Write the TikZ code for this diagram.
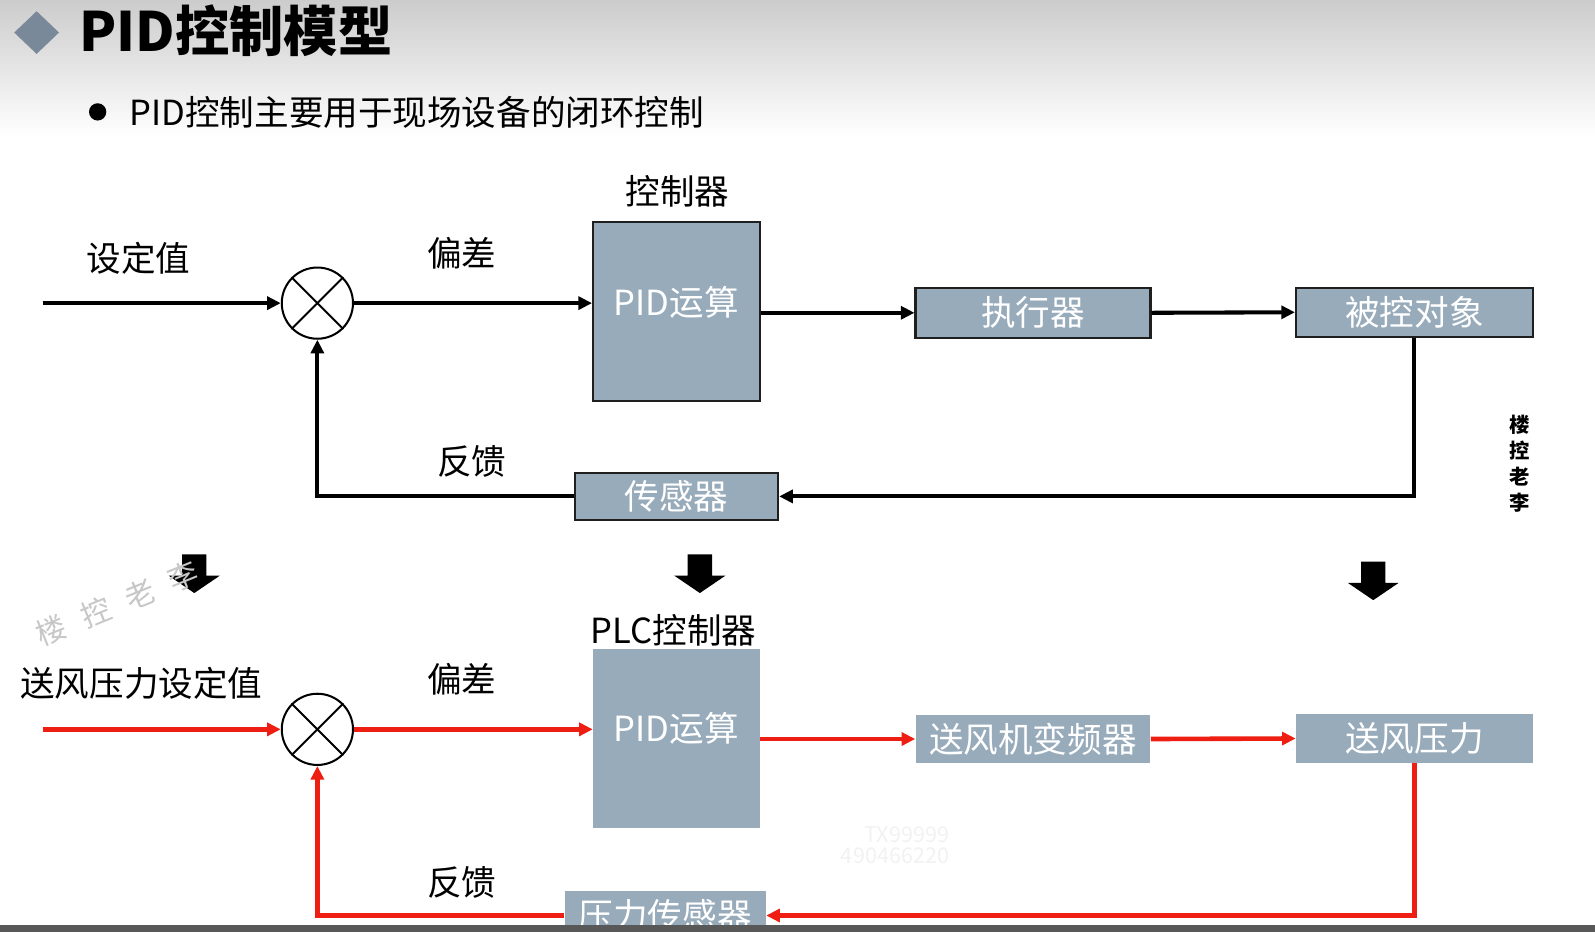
\documentclass[tikz,border=0pt]{standalone}
\usepackage{fontspec}
\setmainfont{Noto Sans CJK SC}
\usetikzlibrary{arrows.meta}
\definecolor{boxfill}{RGB}{152,171,187}
\definecolor{redline}{RGB}{238,30,18}
\definecolor{diam}{RGB}{122,137,153}
\definecolor{barcol}{RGB}{88,88,88}
\newcommand{\myfs}[1]{\fontsize{#1pt}{#1pt}\selectfont}
\begin{document}
\begin{tikzpicture}[x=0.75pt,y=-0.75pt,
  lbl/.style={font={\myfs{25.5}}, inner sep=0pt},
  blk/.style={fill=boxfill, draw=black!88, line width=1.5pt, text=white, font={\myfs{25.5}}, inner sep=0pt},
  blkr/.style={fill=boxfill, draw=none, text=white, font={\myfs{25.5}}, inner sep=0pt},
  sumc/.style={circle, draw=black, fill=white, line width=1.5pt, minimum size=52.5pt, inner sep=0pt},
  ar/.style={draw=black, line width=3pt, -{Triangle[length=10pt,width=9.5pt]}},
  arr/.style={draw=redline, line width=3.4pt, -{Triangle[length=10pt,width=9.5pt]}},
  wmd/.style={text=black!22, rotate=22, font={\myfs{22}}, inner sep=0pt},
  dnarrow/.pic={\fill[black] (-12,0) -- (12,0) -- (12,21) -- (25,21) -- (0,38) -- (-25,21) -- (-12,21) -- cycle;}
]
\useasboundingbox (0,0) rectangle (1568,916);
% header background
\shade[top color=black!20, bottom color=white, draw=none] (0,0) rectangle (1568,135);
\fill[white] (0,135) rectangle (1568,916);
% title
\fill[diam] (36,11) -- (58,32) -- (36,53) -- (14,32) -- cycle;
\node[anchor=west, inner sep=0pt, font={\myfs{40}\bfseries}] (title) at (78,30) {PID控制模型};
\fill[black] (96,110) circle (8.5);
\node[anchor=west, inner sep=0pt, font={\myfs{25.5}}] (bullet) at (127,110) {PID控制主要用于现场设备的闭环控制};

% ---------- top loop ----------
\coordinate (in1) at (42,298);
\node[sumc] (c1) at (312,298) {};
\draw[line width=1.5pt] (c1.north west) -- (c1.south east) (c1.north east) -- (c1.south west);
\node[blk, minimum width=123pt, minimum height=132pt] (pid1) at (665,306) {};
\node[text=white, font={\myfs{25.5}}, inner sep=0pt] (pidt1) at (665,297) {PID运算};
\node[blk, minimum width=173.25pt, minimum height=36.75pt] (act1) at (1015.5,307.5) {执行器};
\node[blk, minimum width=174.75pt, minimum height=36pt] (obj1) at (1390.5,307) {被控对象};
\node[blk, minimum width=150pt, minimum height=34.5pt] (sen1) at (665,488) {传感器};
\node[lbl] (set1) at (136,254) {设定值};
\node[lbl] (dev1) at (454,249) {偏差};
\node[lbl] (ctl1) at (666,188) {控制器};
\node[lbl] (fb1) at (464,454) {反馈};
\draw[ar] (in1) -- (c1.west);
\draw[ar] (c1.east) -- (c1.east -| pid1.west);
\draw[ar] (act1.west -| pid1.east) -- (act1.west);
\draw[ar] (act1.east) -- (obj1.west);
\draw[ar] (obj1.south) |- (sen1.east);
\draw[ar] (sen1.west) -| (c1.south);

% watermark right
\node[font={\myfs{15}\bfseries}, inner sep=0pt, align=center] (wm1) at (1494,456) {楼\\[4pt]控\\[4pt]老\\[4pt]李};

% block arrows
\pic at (191,545) {dnarrow};
\pic at (688,545) {dnarrow};
\pic at (1350,552) {dnarrow};

% diagonal watermark
\node[wmd] (wmA) at (50,620) {楼};
\node[wmd] (wmB) at (94,602) {控};
\node[wmd] (wmC) at (138,584) {老};
\node[wmd] (wmD) at (180,567) {李};

% ---------- bottom loop ----------
\coordinate (in2) at (42,717);
\node[sumc] (c2) at (312,717) {};
\draw[line width=1.5pt] (c2.north west) -- (c2.south east) (c2.north east) -- (c2.south west);
\node[blkr, minimum width=123pt, minimum height=132pt] (pid2) at (665,726) {};
\node[text=white, font={\myfs{25.5}}, inner sep=0pt] (pidt2) at (665,716) {PID运算};
\node[blkr, minimum width=173.25pt, minimum height=35.25pt] (act2) at (1015.5,726.5) {送风机变频器};
\node[blkr, minimum width=174.75pt, minimum height=36pt] (obj2) at (1390.5,726) {送风压力};
\node[blkr, minimum width=148.5pt, minimum height=36pt] (sen2) at (654,900) {压力传感器};
\node[lbl] (set2) at (139,672) {送风压力设定值};
\node[lbl] (dev2) at (454,668) {偏差};
\node[lbl] (ctl2) at (662,620) {PLC控制器};
\node[lbl] (fb2) at (454,867) {反馈};
\draw[arr] (in2) -- (c2.west);
\draw[arr] (c2.east) -- (c2.east -| pid2.west);
\draw[arr] (act2.west -| pid2.east) -- (act2.west);
\draw[arr] (act2.east) -- (obj2.west);
\draw[arr] (obj2.south) |- (sen2.east);
\draw[arr] (sen2.west) -| (c2.south);

% faint watermark numbers
\node[text=black!5, font={\myfs{16}}, inner sep=0pt, align=right] (wm3) at (880,831) {TX99999\\490466220};

% bottom bar
\fill[barcol] (0,909) rectangle (1568,916);
\end{tikzpicture}
\end{document}
